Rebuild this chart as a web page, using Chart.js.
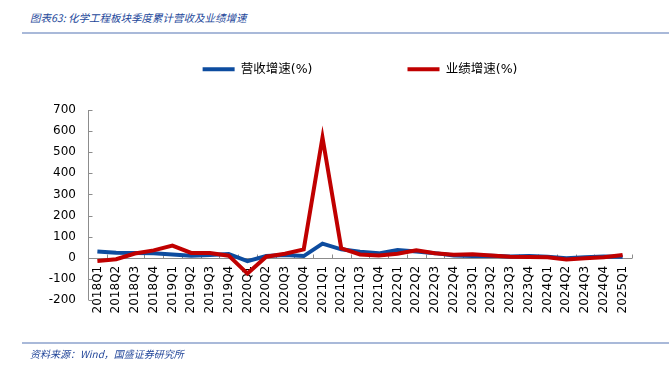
<!DOCTYPE html>
<html>
<head>
<meta charset="utf-8">
<script src="https://cdn.jsdelivr.net/npm/chart.js@4"></script>
<style>
  body { margin: 0; background: #fff; width: 669px; height: 367px; overflow: hidden; position: relative; }
  .cap { position: absolute; left: 30px; font: italic 10.5px "Noto Sans CJK SC", sans-serif; color: #23479a; white-space: nowrap; }
  .rule { position: absolute; left: 22px; width: 647px; height: 2px; background: #a9b9d9; }
  #wrap { position: absolute; left: 0; top: -32px; width: 669px; height: 399px; }
</style>
</head>
<body>
<div class="cap" style="top:10px">图表63: 化学工程板块季度累计营收及业绩增速</div>
<div class="rule" style="top:32px"></div>
<div id="wrap"><canvas id="c" width="669" height="399"></canvas></div>
<div class="rule" style="top:342px"></div>
<div class="cap" style="top:346px; font-size:10px">资料来源：Wind，国盛证券研究所</div>
<script>
const quarters = ['2018Q1', '2018Q2', '2018Q3', '2018Q4', '2019Q1', '2019Q2', '2019Q3', '2019Q4',
  '2020Q1', '2020Q2', '2020Q3', '2020Q4', '2021Q1', '2021Q2', '2021Q3', '2021Q4',
  '2022Q1', '2022Q2', '2022Q3', '2022Q4', '2023Q1', '2023Q2', '2023Q3', '2023Q4',
  '2024Q1', '2024Q2', '2024Q3', '2024Q4', '2025Q1'];
// 营收增速(%)
const revenueGrowth = [30, 24, 23, 22, 16, 10, 13, 18, -16, 8, 13, 8, 67, 40, 29, 21,
  37, 30, 22, 11, 8, 10, 6, 8, 5, -2, 3, 6, 5];
// 业绩增速(%)
const profitGrowth = [-15, -7, 20, 35, 58, 23, 23, 10, -75, 5, 19, 40, 570, 45, 16, 11,
  19, 35, 21, 14, 17, 11, 5, 4, 3, -8, -2, 2, 13];
const yMin = -200;
const yMax = 700;
const yStep = 100;

const axisColor = '#8c8c8c';
const tickFont = { family: '"DejaVu Sans", sans-serif', size: 12 };

// axis lines drawn Excel-style: y line with inward ticks, x line sitting on zero
const axisLines = {
  id: 'axisLines',
  beforeDatasetsDraw(chart) {
    const { ctx, chartArea: area, scales: { x, y } } = chart;
    ctx.save();
    ctx.strokeStyle = axisColor;
    ctx.lineWidth = 1;
    ctx.beginPath();
    const lx = Math.round(area.left) + 0.5;
    ctx.moveTo(lx, area.top);
    ctx.lineTo(lx, area.bottom);
    y.ticks.forEach((t) => {
      const py = Math.round(y.getPixelForValue(t.value)) + 0.5;
      ctx.moveTo(lx, py);
      ctx.lineTo(lx + 4, py);
    });
    const zy = Math.round(y.getPixelForValue(0)) + 0.5;
    ctx.moveTo(area.left, zy);
    ctx.lineTo(area.right, zy);
    const step = x.getPixelForValue(1) - x.getPixelForValue(0);
    for (let i = 0; i <= quarters.length; i++) {
      const px = Math.round(x.getPixelForValue(0) - step / 2 + i * step) + 0.5;
      ctx.moveTo(px, zy);
      ctx.lineTo(px, zy - 4);
    }
    ctx.stroke();
    ctx.restore();
  },
};

new Chart(document.getElementById('c'), {
  type: 'line',
  data: {
    labels: quarters,
    datasets: [
      { label: '营收增速(%)', data: revenueGrowth, borderColor: '#0d4c9f', backgroundColor: '#0d4c9f', order: 1 },
      { label: '业绩增速(%)', data: profitGrowth, borderColor: '#c00000', backgroundColor: '#c00000', order: 0 },
    ],
  },
  options: {
    responsive: false,
    animation: false,
    layout: { padding: { left: 0, right: 37, top: 0, bottom: 67 } },
    elements: {
      line: { borderWidth: 4, tension: 0 },
      point: { radius: 0 },
    },
    scales: {
      x: {
        position: { y: 0 },
        offset: true,
        grid: { display: false, drawTicks: false },
        border: { display: false },
        ticks: {
          autoSkip: false, minRotation: 90, maxRotation: 90, padding: 8,
          color: '#000', font: tickFont,
        },
        afterFit: (scale) => { scale.height = 20; },
      },
      y: {
        min: yMin,
        max: yMax,
        grid: { display: false, drawTicks: false },
        border: { display: false },
        ticks: { stepSize: yStep, padding: 12, color: '#000', font: tickFont },
        afterFit: (scale) => { scale.width = 88; },
      },
    },
    plugins: {
      tooltip: { enabled: false },
      legend: {
        fullSize: false,
        labels: {
          boxWidth: 32,
          boxHeight: 4,
          padding: 95,
          color: '#000',
          font: { family: '"DejaVu Sans", "Noto Sans CJK SC", sans-serif', size: 12.5 },
          sort: (a, b) => a.datasetIndex - b.datasetIndex,
          generateLabels: (chart) => Chart.defaults.plugins.legend.labels.generateLabels(chart)
            .map((item) => ({ ...item, lineWidth: 0 })),
        },
      },
    },
  },
  plugins: [axisLines, {
    beforeInit: (chart) => {
      const legend = chart.legend;
      const fit = legend.fit;
      legend.fit = function () { fit.call(this); this.height = 142; };
    },
  }],
});
</script>
</body>
</html>
